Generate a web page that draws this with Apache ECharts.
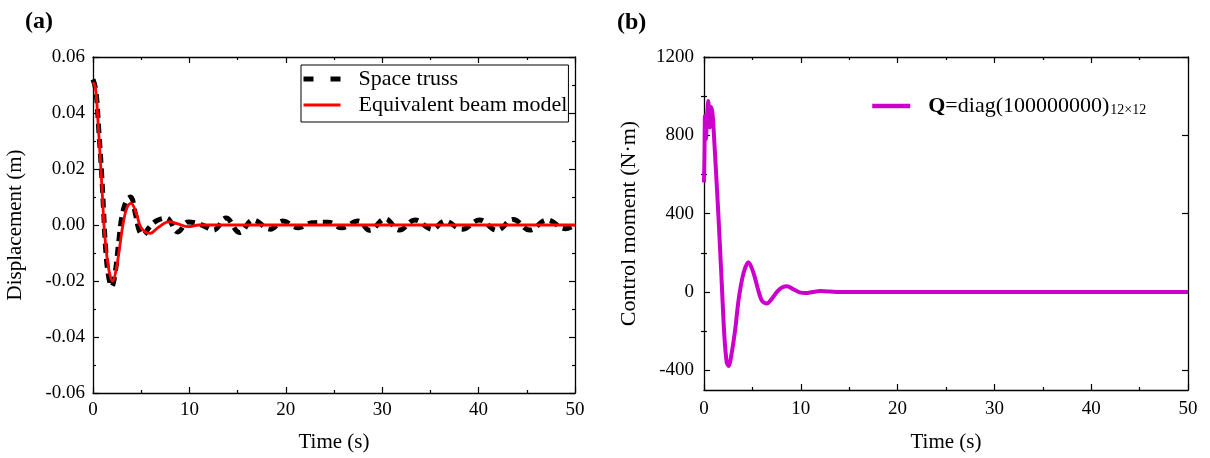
<!DOCTYPE html>
<html>
<head>
<meta charset="utf-8">
<script src="https://cdn.jsdelivr.net/npm/echarts@6/dist/echarts.min.js"></script>
<style>
  html, body { margin: 0; padding: 0; background: #fff; }
  #main { width: 1210px; height: 458px; }
</style>
</head>
<body>
<div id="main"></div>
<script>
  // (a) displacement, space truss (black dashed)
  var trussTime = [0, 0.3, 0.6, 0.9, 1.1, 1.3, 1.6, 1.94, 2.3, 2.7, 3.0, 3.5, 3.9, 4.4, 4.8, 5.2, 5.8, 6.6, 7.6,
    8.8, 9.9, 11.3, 12.5, 13.8, 15.2, 16.6, 18.4, 19.7, 21.3, 22.7, 24.4, 25.8, 27.5, 28.7, 30.3, 31.8, 33.4,
    35.2, 36.5, 38.3, 40.1, 41.9, 43.6, 45.3, 47.1, 49.0, 50];
  var trussDisp = [0.052, 0.048, 0.034, 0.018, 0.005, -0.008, -0.018, -0.022, -0.017, -0.005, 0.003, 0.009, 0.010,
    0.004, -0.002, -0.0036, -0.001, 0.0015, 0.0025, -0.0025, 0.0011, 0, -0.0018, 0.0025, -0.0027, 0.0018,
    -0.0015, 0.0014, -0.001, 0.0008, 0.001, -0.001, 0.0014, -0.0019, 0.0022, -0.0018, 0.0018, -0.0015, 0.0014,
    -0.0015, 0.0018, -0.0019, 0.002, -0.0018, 0.0018, -0.0013, 0];

  // (a) displacement, equivalent beam model (red)
  var beamTime = [0, 0.25, 0.5, 0.75, 1.0, 1.14, 1.4, 1.7, 2.04, 2.4, 2.8, 3.1, 3.5, 3.95, 4.5, 5.0, 5.9, 6.8,
    7.9, 8.8, 9.9, 11, 50];
  var beamDisp = [0.051, 0.049, 0.038, 0.024, 0.009, 0, -0.010, -0.017, -0.020, -0.016, -0.007, 0, 0.006, 0.0077,
    0.004, -0.001, -0.003, -0.0008, 0.0012, 0.0004, -0.0006, 0, 0];

  // (b) control moment
  var momentTime = [0, 0.05, 0.1, 0.2, 0.3, 0.45, 0.6, 0.75, 0.9, 1.2, 1.5, 1.8, 2.1, 2.35, 2.56, 2.8, 3.2, 3.6,
    4.1, 4.6, 5.1, 5.6, 6.0, 6.5, 7.0, 7.6, 8.1, 8.6, 9.2, 9.8, 10.5, 11.2, 12, 13, 14, 15, 50];
  var momentVal = [560, 700, 900, 780, 880, 975, 840, 945, 900, 650, 380, 80, -220, -360, -378, -330, -200, -30,
    100, 152, 100, 10, -45, -58, -35, 5, 25, 30, 15, 0, -5, 0, 5, 3, 0, 0, 0];

  var momentTicks = [-400, 0, 400, 800, 1200];
  var momentMinor = [-200, 200, 600, 1000];

  function zip(a, b) {
    return a.map(function (v, i) { return [v, b[i]]; });
  }

  var font = 'Liberation Serif';
  var lineCol = '#000';

  function xAx(grid, bottom, nameGap, margin) {
    return {
      type: 'value', gridIndex: grid, position: bottom ? 'bottom' : 'top',
      min: 0, max: 50, interval: 10,
      name: bottom ? 'Time (s)' : '', nameLocation: 'middle', nameGap: nameGap,
      nameTextStyle: { fontFamily: font, fontSize: 21, color: '#000' },
      axisLine: { show: true, onZero: false, lineStyle: { color: lineCol, width: 1.3 } },
      axisTick: { show: true, inside: true, length: 6, lineStyle: { color: lineCol, width: 1.2 } },
      minorTick: { show: true, splitNumber: 2, length: 3, lineStyle: { color: lineCol, width: 1.2 } },
      axisLabel: { show: bottom, margin: margin, fontFamily: font, fontSize: 19, color: '#000' },
      splitLine: { show: false }
    };
  }

  var option = {
    animation: false,
    backgroundColor: '#fff',
    title: [
      { text: '(a)', left: 25, top: 10, padding: 0,
        textStyle: { fontFamily: font, fontSize: 24, fontWeight: 'bold', color: '#000' } },
      { text: '(b)', left: 617, top: 11, padding: 0,
        textStyle: { fontFamily: font, fontSize: 24, fontWeight: 'bold', color: '#000' } }
    ],
    grid: [
      { left: 93, top: 57, width: 482, height: 338 },
      { left: 704, top: 57, width: 484, height: 338 }
    ],
    legend: [
      {
        left: 301, top: 65, orient: 'vertical',
        padding: [3, 1, 6, 0], itemGap: 4,
        itemWidth: 37, itemHeight: 14,
        borderColor: '#000', borderWidth: 1,
        itemStyle: { opacity: 0 },
        textStyle: { fontFamily: font, fontSize: 22, color: '#000', padding: [0, 0, 0, 13] },
        data: [
          { name: 'Space truss', lineStyle: { type: [10, 17], width: 5, color: '#000' } },
          { name: 'Equivalent beam model', lineStyle: { width: 3 } }
        ]
      },
      {
        left: 870, top: 95, orient: 'vertical',
        padding: 0,
        itemWidth: 38, itemHeight: 14,
        itemStyle: { opacity: 0 },
        textStyle: {
          fontFamily: font, fontSize: 22, color: '#000', padding: [0, 0, 0, 13],
          rich: {
            b: { fontFamily: font, fontSize: 22, fontWeight: 'bold', color: '#000', lineHeight: 22 },
            n: { fontFamily: font, fontSize: 22, color: '#000', lineHeight: 22 },
            s: { fontFamily: font, fontSize: 14, color: '#000', lineHeight: 14, padding: [8, 0, 0, 1] }
          }
        },
        formatter: function () {
          return '{b|Q}{n|=diag(100000000)}{s|12×12}';
        },
        data: [{ name: 'Qdiag', lineStyle: { width: 4.5, color: '#cc00cc' } }]
      }
    ],
    xAxis: [
      xAx(0, true, 39, 8),
      xAx(0, false, 0, 8),
      xAx(1, true, 42, 10),
      xAx(1, false, 0, 10)
    ],
    yAxis: [
      {
        type: 'value', gridIndex: 0, position: 'left',
        min: -0.06, max: 0.06, interval: 0.02,
        name: 'Displacement (m)', nameLocation: 'middle', nameGap: 67,
        nameTextStyle: { fontFamily: font, fontSize: 21, color: '#000' },
        axisLine: { show: true, onZero: false, lineStyle: { color: lineCol, width: 1.3 } },
        axisTick: { show: true, inside: true, length: 6, lineStyle: { color: lineCol, width: 1.2 } },
        minorTick: { show: true, splitNumber: 2, length: 3, lineStyle: { color: lineCol, width: 1.2 } },
        axisLabel: {
          margin: 8, fontFamily: font, fontSize: 19, color: '#000',
          formatter: function (v) { return Math.abs(v) < 1e-9 ? '0.00' : v.toFixed(2); }
        },
        splitLine: { show: false }
      },
      {
        type: 'value', gridIndex: 0, position: 'right',
        min: -0.06, max: 0.06, interval: 0.02,
        axisLine: { show: true, onZero: false, lineStyle: { color: lineCol, width: 1.3 } },
        axisTick: { show: true, inside: true, length: 6, lineStyle: { color: lineCol, width: 1.2 } },
        minorTick: { show: true, splitNumber: 2, length: 3, lineStyle: { color: lineCol, width: 1.2 } },
        axisLabel: { show: false },
        splitLine: { show: false }
      },
      {
        type: 'value', gridIndex: 1, position: 'left',
        min: -500, max: 1200,
        name: 'Control moment (N·m)', nameLocation: 'middle', nameGap: 64,
        nameTextStyle: { fontFamily: font, fontSize: 22, color: '#000' },
        axisLine: { show: true, onZero: false, lineStyle: { color: lineCol, width: 1.3 } },
        axisTick: { show: true, inside: true, length: 6, customValues: momentTicks,
          lineStyle: { color: lineCol, width: 1.2 } },
        axisLabel: {
          margin: 10, fontFamily: font, fontSize: 19, color: '#000', customValues: momentTicks,
          formatter: function (v) { return String(v); }
        },
        splitLine: { show: false }
      },
      {
        type: 'value', gridIndex: 1, position: 'left',
        min: -500, max: 1200,
        axisLine: { show: false },
        axisTick: { show: true, inside: true, length: 3, customValues: momentMinor,
          lineStyle: { color: lineCol, width: 1.2 } },
        axisLabel: { show: false },
        splitLine: { show: false }
      },
      {
        type: 'value', gridIndex: 1, position: 'right',
        min: -500, max: 1200,
        axisLine: { show: true, onZero: false, lineStyle: { color: lineCol, width: 1.3 } },
        axisTick: { show: true, inside: true, length: 6, customValues: momentTicks,
          lineStyle: { color: lineCol, width: 1.2 } },
        axisLabel: { show: false },
        splitLine: { show: false }
      },
      {
        type: 'value', gridIndex: 1, position: 'right',
        min: -500, max: 1200,
        axisLine: { show: false },
        axisTick: { show: true, inside: true, length: 3, customValues: momentMinor,
          lineStyle: { color: lineCol, width: 1.2 } },
        axisLabel: { show: false },
        splitLine: { show: false }
      }
    ],
    series: [
      {
        name: 'Space truss', type: 'line', xAxisIndex: 0, yAxisIndex: 0,
        data: zip(trussTime, trussDisp), smooth: 0.4, symbol: 'none',
        lineStyle: { color: '#000', width: 5, type: [9, 6] },
        itemStyle: { color: '#000' }
      },
      {
        name: 'Equivalent beam model', type: 'line', xAxisIndex: 0, yAxisIndex: 0,
        data: zip(beamTime, beamDisp), smooth: 0.4, symbol: 'none',
        lineStyle: { color: '#ff0000', width: 2.8 },
        itemStyle: { color: '#ff0000' }
      },
      {
        name: 'Qdiag', type: 'line', xAxisIndex: 2, yAxisIndex: 2,
        data: zip(momentTime, momentVal), smooth: 0.3, symbol: 'none',
        lineStyle: { color: '#cc00cc', width: 4 },
        itemStyle: { color: '#cc00cc' }
      }
    ]
  };

  var chart = echarts.init(document.getElementById('main'));
  chart.setOption(option);
</script>
</body>
</html>
